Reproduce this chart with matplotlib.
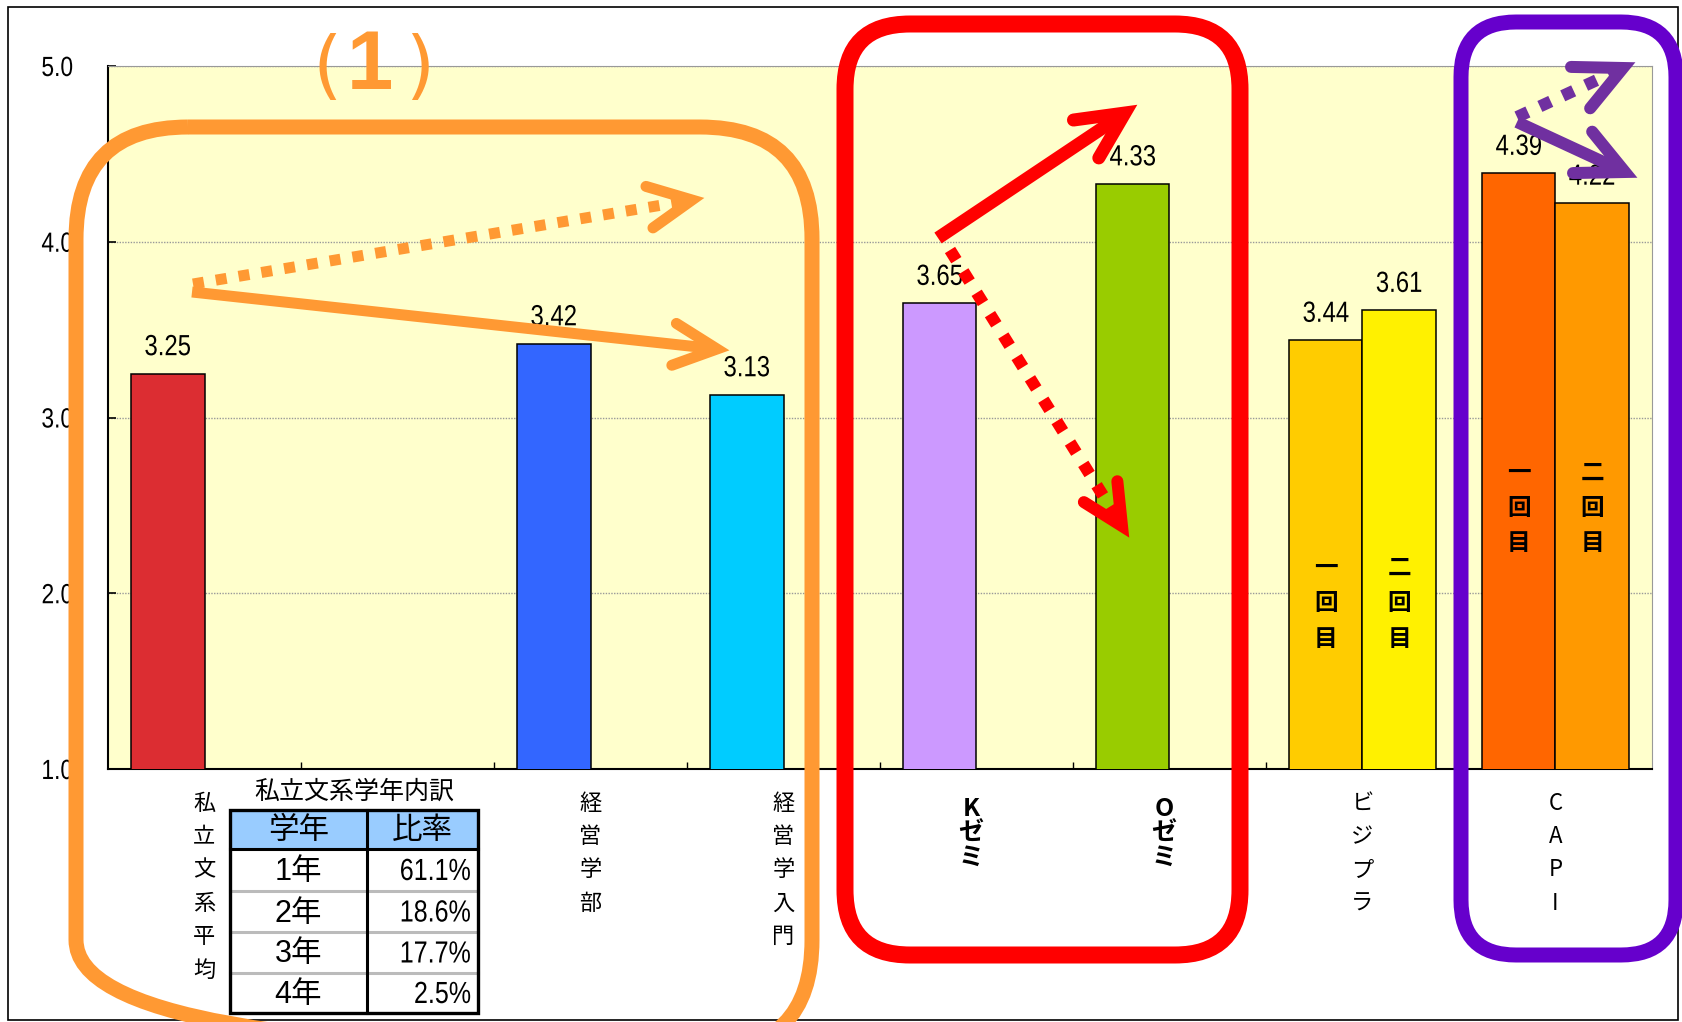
import numpy as np
import matplotlib
matplotlib.use("Agg")
import matplotlib.pyplot as plt
from matplotlib.patches import FancyBboxPatch, Rectangle
from matplotlib.patheffects import AbstractPathEffect
from matplotlib.transforms import Affine2D

# ---- data ----
categories = ["私立文系平均", "", "経営学部", "経営学入門", "Kゼミ", "Oゼミ", "ビジプラ", "CAPI"]
first_values = [3.25, np.nan, 3.42, 3.13, 3.65, 4.33, 3.44, 4.39]
second_values = [np.nan, np.nan, np.nan, np.nan, np.nan, np.nan, 3.61, 4.22]
first_colors = ["#DC2D32", "#FFFFFF", "#3366FF", "#00CCFF", "#CC99FF", "#99CC00", "#FFCC00", "#FF6600"]
second_colors = ["#FFFFFF"] * 6 + ["#FFF100", "#FF9900"]
bold_categories = ["Kゼミ", "Oゼミ"]
round_labels = ["一回目", "二回目"]
round_label_y = {6: 1.944, 7: 2.485}
y_ticks = [1.0, 2.0, 3.0, 4.0, 5.0]

table_title = "私立文系学年内訳"
table_header = ["学年", "比率"]
grades = ["1年", "2年", "3年", "4年"]
grade_shares = [61.1, 18.6, 17.7, 2.5]

W, H = 1683, 1022
SANS = ["Liberation Sans", "Noto Sans CJK JP", "DejaVu Sans"]
CJK = ["Noto Sans CJK JP", "DejaVu Sans"]
plt.rcParams["font.family"] = SANS


class SqueezeX(AbstractPathEffect):
    """Draw text narrower by scaling its outline horizontally."""

    def __init__(self, factor=0.82, anchor="center"):
        super().__init__()
        self.factor = factor
        self.anchor = anchor

    def draw_path(self, renderer, gc, tpath, affine, rgbFace=None):
        xs = tpath.vertices[:, 0]
        if len(xs):
            lo, hi = xs.min(), xs.max()
            cx = {"center": (lo + hi) / 2, "left": lo, "right": hi}[self.anchor]
            affine = Affine2D().translate(-cx, 0).scale(self.factor, 1).translate(cx, 0) + affine
        renderer.draw_path(gc, tpath, affine, rgbFace)


NARROW_C = [SqueezeX(0.82, "center")]
NARROW_R = [SqueezeX(0.82, "right")]

fig = plt.figure(figsize=(W / 100, H / 100), dpi=100)
fig.patch.set_facecolor("white")

# ---- main bar chart ----
px = lambda v: v / W
py = lambda v: v / H
ax = fig.add_axes([px(108), 1 - py(769), px(1652 - 108), py(769 - 66)])
ax.set_facecolor("#FFFFCC")
n = len(categories)
centers = np.arange(n) + 0.5
bw = 0.38

ax.bar(centers - bw / 2, first_values, bw, color=first_colors, edgecolor="black", linewidth=1.1, zorder=3)
ax.bar(centers + bw / 2, second_values, bw, color=second_colors, edgecolor="black", linewidth=1.1, zorder=3)

ax.set_xlim(0, n)
ax.set_ylim(1, 5)
ax.set_yticks(y_ticks)
ax.set_yticklabels([f"{t:.1f}" for t in y_ticks], fontsize=20, path_effects=NARROW_R)
ax.tick_params(axis="y", direction="in", length=6, width=1.2, pad=25)
ax.set_xticks([])
ax.set_xticks(np.arange(1, n), minor=True)
ax.tick_params(axis="x", which="minor", direction="in", length=5, width=1)
ax.yaxis.grid(True, color="#999999", linewidth=1, linestyle=(0, (1, 1)), zorder=0)
ax.set_axisbelow(True)
for s in ["top", "right"]:
    ax.spines[s].set_color("#999999")
for s in ["left", "bottom"]:
    ax.spines[s].set_linewidth(1.5)

# value labels above the bars
for vals, off in ((first_values, -bw / 2), (second_values, bw / 2)):
    for c, v in zip(centers, vals):
        if not np.isnan(v):
            ax.annotate(f"{v:.2f}", (c + off, v), xytext=(0, 19), textcoords="offset points",
                        ha="center", va="center", fontsize=21, path_effects=NARROW_C, zorder=5)

# round labels inside the paired bars
for i, yv in round_label_y.items():
    for lab, off in zip(round_labels, (-bw / 2, bw / 2)):
        for k, ch in enumerate(lab):
            ax.annotate(ch, (centers[i] + off, yv), xytext=(0, (1 - k) * 25.5), textcoords="offset points",
                        ha="center", va="center", fontsize=17, fontweight="bold", family=CJK, zorder=6)

# stacked category labels
xt = ax.get_xaxis_transform()
for c, name in zip(centers, categories):
    bold = name in bold_categories
    first, step, size = (29, 17.5, 18) if bold else (24.5, 24.1, 16)
    for k, ch in enumerate(name):
        ax.annotate(ch, (c, 0), xycoords=xt, xytext=(-4 if bold else 0, -(first + k * step)),
                    textcoords="offset points", ha="center", va="center", fontsize=size, family=CJK,
                    fontweight="bold" if bold else "normal", annotation_clip=False)

# ---- annotation layer in figure pixels ----
ov = fig.add_axes([0, 0, 1, 1])
ov.set_xlim(0, W)
ov.set_ylim(H, 0)
ov.axis("off")
ov.patch.set_visible(False)

ov.add_patch(Rectangle((8, 7), 1670, 1013, fill=False, edgecolor="black", linewidth=1.2, zorder=1))

PT = 0.72  # points per pixel


def rbox(x0, y0, x1, y1, r, color, lw_px):
    ov.add_patch(FancyBboxPatch((x0, y0), x1 - x0, y1 - y0,
                                boxstyle=f"round,pad=0,rounding_size={r}",
                                fill=False, edgecolor=color, linewidth=lw_px * PT, zorder=4))


def arrow(p0, p1, color, lw_px, dotted=False, head=50, spread=26):
    (x0, y0), (x1, y1) = p0, p1
    ls = (0, (1, 1.1)) if dotted else "-"
    ov.plot([x0, x1], [y0, y1], color=color, linewidth=lw_px * PT, linestyle=ls,
            solid_capstyle="butt", dash_capstyle="butt", zorder=5)
    ang = np.arctan2(y0 - y1, x0 - x1)
    a1, a2 = ang + np.radians(spread), ang - np.radians(spread)
    hx = [x1 + head * np.cos(a1), x1, x1 + head * np.cos(a2)]
    hy = [y1 + head * np.sin(a1), y1, y1 + head * np.sin(a2)]
    ov.plot(hx, hy, color=color, linewidth=lw_px * PT, solid_capstyle="round",
            solid_joinstyle="miter", zorder=5)


ORANGE, RED, PURPLE, VIOLET = "#FF9933", "#FF0000", "#6600CC", "#7030A0"
rbox(76, 127, 812, 1052, 112, ORANGE, 15)
rbox(845, 24, 1240, 955, 65, RED, 17)
rbox(1461, 22, 1676, 955, 55, PURPLE, 15)

arrow((193, 284), (692, 200), ORANGE, 11, dotted=True, head=48)
arrow((192, 292), (717, 349), ORANGE, 11, head=48)
arrow((938, 238), (1125, 113), RED, 13, head=52)
arrow((950, 250), (1122, 526), RED, 12, dotted=True, head=45)
arrow((1517, 117), (1623, 68), VIOLET, 12, dotted=True, head=52)
arrow((1517, 122), (1625, 172), VIOLET, 12, head=52)

# section marker
ov.text(327, 70, "(", color=ORANGE, fontsize=54, ha="center", va="center", family=["DejaVu Sans"], zorder=6)
ov.text(370, 67, "1", color=ORANGE, fontsize=60, ha="center", va="center", fontweight="bold",
        family=["Liberation Sans", "DejaVu Sans"], zorder=6)
ov.text(420, 70, ")", color=ORANGE, fontsize=54, ha="center", va="center", family=["DejaVu Sans"], zorder=6)

# ---- grade breakdown table ----
tx0, tx1, tmid = 230, 478, 367
ty = [810, 849, 891, 932, 973, 1013]
ov.text((tx0 + tx1) / 2, 792, table_title, fontsize=18, ha="center", va="center", family=CJK, zorder=7)
ov.add_patch(Rectangle((tx0, ty[0]), tx1 - tx0, ty[1] - ty[0], facecolor="#99CCFF", edgecolor="none", zorder=6))
ov.add_patch(Rectangle((tx0, ty[1]), tx1 - tx0, ty[-1] - ty[1], facecolor="white", edgecolor="none", zorder=6))
for yv in ty[2:-1]:
    ov.plot([tx0, tx1], [yv, yv], color="#BBBBBB", linewidth=2.2, zorder=7)
ov.plot([tx0, tx1], [ty[1], ty[1]], color="black", linewidth=2.2, zorder=7)
ov.plot([tmid, tmid], [ty[0], ty[-1]], color="black", linewidth=2.2, zorder=7)
ov.add_patch(Rectangle((tx0, ty[0]), tx1 - tx0, ty[-1] - ty[0], fill=False, edgecolor="black", linewidth=2.4, zorder=8))
hy = (ty[0] + ty[1]) / 2
ov.text((tx0 + tmid) / 2, hy + 1, table_header[0], fontsize=22, ha="center", va="center", family=CJK, zorder=8)
ov.text((tmid + tx1) / 2, hy + 1, table_header[1], fontsize=22, ha="center", va="center", family=CJK, zorder=8)
for k, (g, s) in enumerate(zip(grades, grade_shares)):
    yc = (ty[k + 1] + ty[k + 2]) / 2 + 2
    ov.text((tx0 + tmid) / 2, yc, g, fontsize=22, ha="center", va="center", zorder=8)
    ov.text(tx1 - 7, yc, f"{s:.1f}%", fontsize=22, ha="right", va="center", path_effects=NARROW_R, zorder=8)

fig.savefig("out.png", dpi=100)
